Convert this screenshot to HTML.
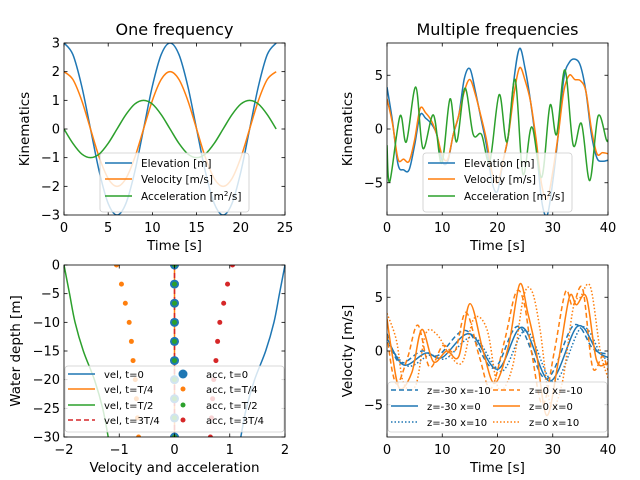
<!DOCTYPE html>
<html><head><meta charset="utf-8"><style>
html,body{margin:0;padding:0;background:#fff;}
svg{display:block;font-family:"DejaVu Sans","Liberation Sans",sans-serif;}
</style></head><body>
<svg id="fig" width="640" height="480" viewBox="0 0 640 480" xmlns="http://www.w3.org/2000/svg"></svg>
<script>
// ---- Panel 1: one frequency
const p1Times = [0,1,2,3,4,5,6,7,8,9,10,11,12,13,14,15,16,17,18,19,20,21,22,23,24];
const p1Elevation = [3,2.6,1.5,0,-1.5,-2.6,-3,-2.6,-1.5,0,1.5,2.6,3,2.6,1.5,0,-1.5,-2.6,-3,-2.6,-1.5,0,1.5,2.6,3];
const p1Velocity = [2,1.73,1,0,-1,-1.73,-2,-1.73,-1,0,1,1.73,2,1.73,1,0,-1,-1.73,-2,-1.73,-1,0,1,1.73,2];
const p1Accel = [0,-0.5,-0.87,-1,-0.87,-0.5,0,0.5,0.87,1,0.87,0.5,0,-0.5,-0.87,-1,-0.87,-0.5,0,0.5,0.87,1,0.87,0.5,0];
const p1XTicks = [0,5,10,15,20,25];
const p1YTicks = [-3,-2,-1,0,1,2,3];
// ---- Panel 2: multiple frequencies
const p2Times = [0,1,2,3,4,5,6,7,8,9,10,11,12,13,14,15,16,17,18,19,20,21,22,23,24,25,26,27,28,29,30,31,32,33,34,35,36,37,38,39,40];
const p2Elevation = [3.9,0.7,-3.3,-3.8,-3.8,-1.5,1.3,1,0.5,-0.5,-3,-3,-0.5,1.3,4.7,5.6,3.5,1,-1.5,-4.9,-5.8,-3,-0.5,4.7,7.5,5.6,2.5,-1.5,-6.7,-8,-4.9,-0.5,4.7,6.2,6.5,5.9,3.5,-0.5,-2.7,-3,-2.9];
const p2Velocity = [2.8,0.5,-2.8,-2.8,-3,-1,1.9,1.5,0.8,-0.5,-2.5,-2.8,-0.5,1.3,3.5,4.6,3.2,1.2,-1,-4,-5,-3,-0.5,3.3,5.7,4.5,2.5,-1,-5.2,-6.5,-4,-0.5,3.5,5,4.6,4.5,3.5,0,-2.3,-2.2,-2.3];
const p2AccTimes = [0,0.5,2.35,3.5,5.2,6.5,8.4,9.9,11.4,12.6,14.1,15.6,17.1,18.6,20.3,21.7,23.2,24.6,26.2,28,29.5,30.7,32.2,33.7,35.2,36.7,38.2,39.7,40];
const p2Accel = [-1.5,-4.9,1.2,-1.2,3.9,-1.8,1.3,-3.2,2.8,-1.2,3.8,-0.5,-0.5,-3,3.2,-1.2,4.6,-4.2,0.2,-4.5,2.2,-0.5,5.5,-1.5,0.5,-4.8,1.2,-1,-1];
const p2XTicks = [0,10,20,30,40];
const p2YTicks = [-5,0,5];
// ---- Panel 3: depth profiles
const p3Depths = [0,-5,-10,-15,-20,-25,-30];
const p3VelT0 = [2.0,1.9,1.8,1.65,1.45,1.3,1.2];
const p3VelTQ = [0,0,0,0,0,0,0];
const p3VelTH = [-2.0,-1.9,-1.8,-1.65,-1.45,-1.3,-1.2];
const p3VelT3Q = [0,0,0,0,0,0,0];
const p3AccDepths = [0,-3.33,-6.67,-10,-13.33,-16.67,-20,-23.33,-26.67,-30];
const p3AccT0 = [0,0,0,0,0,0,0,0,0,0];
const p3AccTQ = [-1.05,-0.96,-0.89,-0.82,-0.78,-0.75,-0.71,-0.69,-0.67,-0.65];
const p3AccTH = [0,0,0,0,0,0,0,0,0,0];
const p3AccT3Q = [1.05,0.96,0.89,0.82,0.78,0.75,0.71,0.69,0.67,0.65];
const p3XTicks = [-2,-1,0,1,2];
const p3YTicks = [-30,-25,-20,-15,-10,-5,0];
// ---- Panel 4: velocity time series
const p4BlueTimes = [0,3,7,10,15,20,24.5,29.5,34.5,38,40];
const p4BlueX0 = [1.2,-1.3,-0.2,-0.6,1.6,-1.7,2.2,-2.8,2.3,0,-0.6];
const p4BlueTimesM = [0,2.3,6.3,9.3,14.3,19.3,23.8,28.8,33.8,37.3,40];
const p4BlueXm10 = [1.6,-1.1,0,-0.4,1.9,-1.6,2.3,-2.6,2.4,0.2,-0.3];
const p4BlueTimesP = [0,3.7,7.7,10.7,15.7,20.7,25.2,30.2,35.2,38.7,40];
const p4BlueXp10 = [0.8,-1.4,-0.4,-0.7,1.3,-1.9,1.9,-2.9,2.2,-0.3,-0.8];
const p4OrTimes = [0,1,2.3,4.5,6.3,8.4,10.8,13,15,17.4,19.5,22,24,25.5,27,28.9,31,33,34.3,36.1,37.9,39.7,40];
const p4OrX0 = [3,-0.5,-3.5,-2,2,-1,0,-0.5,4.4,0,-3,0.5,6.2,3.5,0,-6,-1,5,4.3,5,-0.8,-1.2,-1];
const p4OrTimesM = [0,1,2,3.8,5.6,7.7,10.1,12.3,14.3,16.7,18.8,21.3,23.3,24.8,26.3,28.2,30.3,32.3,33.6,35.4,37.2,39,40];
const p4OrXm10 = [1.5,-2,-3,-0.5,2.4,-1.5,0.5,0,3.6,-0.5,-3.5,1,5.4,4.5,-0.5,-5,0,5.5,4.2,5.8,-1.5,-0.5,-1.8];
const p4OrTimesP = [0,1.7,3,5.2,7,9.1,11.5,13.7,15.7,18.1,20.2,22.7,24.7,26.2,27.7,29.6,31.7,33.7,35,36.8,38.6,40];
const p4OrXp10 = [3.5,1,-3,-3.2,1.6,1.5,-0.5,-1,3,2,-3.5,-1.5,5,5.6,2,-5,-3,4,5,6,0,-2.5];
const p4XTicks = [0,10,20,30,40];
const p4YTicks = [-5,0,5];

const NS = "http://www.w3.org/2000/svg";
const fig = document.getElementById('fig');
function mk(tag, attrs, parent){
  const e = document.createElementNS(NS, tag);
  for (const k in attrs) e.setAttribute(k, attrs[k]);
  (parent||fig).appendChild(e);
  return e;
}
function scale(d0,d1,r0,r1){ return v => r0 + (v-d0)/(d1-d0)*(r1-r0); }
function smoothPath(xs, ys){
  let d = 'M'+xs[0].toFixed(2)+','+ys[0].toFixed(2);
  for (let i=0;i<xs.length-1;i++){
    const x0=xs[Math.max(0,i-1)], y0=ys[Math.max(0,i-1)];
    const x1=xs[i], y1=ys[i], x2=xs[i+1], y2=ys[i+1];
    const x3=xs[Math.min(xs.length-1,i+2)], y3=ys[Math.min(xs.length-1,i+2)];
    const c1x=x1+(x2-x0)/6, c1y=y1+(y2-y0)/6, c2x=x2-(x3-x1)/6, c2y=y2-(y3-y1)/6;
    d += ' C'+c1x.toFixed(2)+','+c1y.toFixed(2)+' '+c2x.toFixed(2)+','+c2y.toFixed(2)+' '+x2.toFixed(2)+','+y2.toFixed(2);
  }
  return d;
}
const C = {blue:'#1f77b4', orange:'#ff7f0e', green:'#2ca02c', red:'#d62728'};

function axes(L,T,R,B,xd,yd,xticks,yticks,xlabel,ylabel,title,prefix,yoff){
  const sx = scale(xd[0],xd[1],L,R), sy = scale(yd[0],yd[1],B,T);
  const g = mk('g',{});
  
  
  const clipId = prefix+'-clip';
  const cp = mk('clipPath',{id:clipId},g);
  mk('rect',{x:L,y:T,width:R-L,height:B-T},cp);
  const plot = mk('g',{'clip-path':'url(#'+clipId+')'},g);
  
  
  xticks.forEach(v=>{
    const x=sx(v);
    const t1 = mk('line',{x1:x,x2:x,y1:B,y2:B-3.5,stroke:'#000','stroke-width':0.8},g);
    
    
    mk('line',{x1:x,x2:x,y1:T,y2:T+3.5,stroke:'#000','stroke-width':0.8},g);
    const tl = mk('text',{x:x,y:B+17,'font-size':13,'text-anchor':'middle',fill:'#000'},g);
    tl.textContent = (v<0?'\u2212'+(-v):String(v));
    
    
  });
  yticks.forEach(v=>{
    const y=sy(v);
    const t1 = mk('line',{x1:L,x2:L+3.5,y1:y,y2:y,stroke:'#000','stroke-width':0.8},g);
    
    
    mk('line',{x1:R,x2:R-3.5,y1:y,y2:y,stroke:'#000','stroke-width':0.8},g);
    const tl = mk('text',{x:L-4,y:y+4.5,'font-size':13,'text-anchor':'end',fill:'#000'},g);
    tl.textContent = (v<0?'\u2212'+(-v):String(v));
    
    
  });
  const xl = mk('text',{x:(L+R)/2,y:B+35,'font-size':13.5,'text-anchor':'middle'},g);
  xl.textContent = xlabel;
  
  
  const yx = L - yoff;
  const yl = mk('text',{x:yx,y:(T+B)/2,'font-size':13.5,'text-anchor':'middle',transform:'rotate(-90 '+yx+' '+((T+B)/2)+')'},g);
  yl.textContent = ylabel;
  
  
  if (title){
    const tt = mk('text',{x:(L+R)/2,y:T-8,'font-size':16,'text-anchor':'middle'},g);
    tt.textContent = title;
    
    
  }
  return {sx,sy,plot,g,L,T,R,B};
}
function frame(a){
  const r = mk('rect',{x:a.L,y:a.T,width:a.R-a.L,height:a.B-a.T,fill:'none',stroke:'#000','stroke-width':0.8},a.g);
  
  
}
function line(a, xs, ys, color, name, dash){
  const p = mk('path',{d:smoothPath(xs.map(a.sx), ys.map(a.sy)),fill:'none',stroke:color,'stroke-width':1.5,'stroke-dasharray':dash||'none'},a.plot);
  
  
}
function dots(a, xs, ys, color, r, name){
  xs.forEach((x,i)=>{
    const c = mk('circle',{cx:a.sx(x),cy:a.sy(ys[i]),r:r,fill:color},a.plot);
    
    
  });
}
function legend(x,y,w,h,entries,fs,name){
  const g = mk('g',{});
  
  
  mk('rect',{x:x,y:y,width:w,height:h,rx:3,fill:'#fff','fill-opacity':0.8,stroke:'#ccc','stroke-width':0.8},g);
  entries.forEach(e=>{
    const eg = mk('g',{},g);
    
    
    if (e.marker){
      mk('circle',{cx:e.x+13,cy:e.y,r:e.marker,fill:e.color},eg);
    } else {
      mk('line',{x1:e.x,x2:e.x+27,y1:e.y,y2:e.y,stroke:e.color,'stroke-width':1.5,'stroke-dasharray':e.dash||'none'},eg);
    }
    const t = mk('text',{x:e.x+36,y:e.y+4,'font-size':fs},eg);
    t.innerHTML = e.label;
  });
}

// Panel 1
const a1 = axes(64,43,285,215,[0,25],[-3,3],p1XTicks,p1YTicks,'Time [s]','Kinematics','One frequency','p1',35);
line(a1,p1Times,p1Elevation,C.blue,'elevation-line');
line(a1,p1Times,p1Velocity,C.orange,'velocity-line');
line(a1,p1Times,p1Accel,C.green,'acceleration-line');
frame(a1);
legend(100,153,149,59,[
 {x:105,y:163,color:C.blue,label:'Elevation [m]'},
 {x:105,y:179,color:C.orange,label:'Velocity [m/s]'},
 {x:105,y:196,color:C.green,label:'Acceleration [m<tspan baseline-shift="super" font-size="7">2</tspan>/s]'}
],10.5,'p1-legend');

// Panel 2
const a2 = axes(387,43,608,215,[0,40],[-8,8],p2XTicks,p2YTicks,'Time [s]','Kinematics','Multiple frequencies','p2',35);
line(a2,p2Times,p2Elevation,C.blue,'elevation-line');
line(a2,p2Times,p2Velocity,C.orange,'velocity-line');
line(a2,p2AccTimes,p2Accel,C.green,'acceleration-line');
frame(a2);
legend(423,153,149,59,[
 {x:428,y:163,color:C.blue,label:'Elevation [m]'},
 {x:428,y:179,color:C.orange,label:'Velocity [m/s]'},
 {x:428,y:196,color:C.green,label:'Acceleration [m<tspan baseline-shift="super" font-size="7">2</tspan>/s]'}
],10.5,'p2-legend');

// Panel 3
const a3 = axes(64,265,285,437,[-2,2],[-30,0],p3XTicks,p3YTicks,'Velocity and acceleration','Water depth [m]',null,'depth',44);
line(a3,p3VelT0,p3Depths,C.blue,'vel-t0-line');
line(a3,p3VelTQ,p3Depths,C.orange,'vel-tT4-line');
line(a3,p3VelTH,p3Depths,C.green,'vel-tT2-line');
line(a3,p3VelT3Q,p3Depths,C.red,'vel-t3T4-line','5,3');
dots(a3,p3AccT0,p3AccDepths,C.blue,4.5,'acc-t0-point');
dots(a3,p3AccTQ,p3AccDepths,C.orange,2.5,'acc-tT4-point');
dots(a3,p3AccTH,p3AccDepths,C.green,2.5,'acc-tT2-point');
dots(a3,p3AccT3Q,p3AccDepths,C.red,2.5,'acc-t3T4-point');
frame(a3);
legend(65,366,219,66,[
 {x:68,y:374,color:C.blue,label:'vel, t=0'},
 {x:68,y:389,color:C.orange,label:'vel, t=T/4'},
 {x:68,y:405,color:C.green,label:'vel, t=T/2'},
 {x:68,y:420,color:C.red,dash:'5,3',label:'vel, t=3T/4'},
 {x:170,y:374,color:C.blue,marker:4.5,label:'acc, t=0'},
 {x:170,y:389,color:C.orange,marker:2.5,label:'acc, t=T/4'},
 {x:170,y:405,color:C.green,marker:2.5,label:'acc, t=T/2'},
 {x:170,y:420,color:C.red,marker:2.5,label:'acc, t=3T/4'}
],10,'p3-legend');

// Panel 4
const a4 = axes(387,265,608,437,[0,40],[-8,8],p4XTicks,p4YTicks,'Time [s]','Velocity [m/s]',null,'p4',35);
line(a4,p4BlueTimesM,p4BlueXm10,C.blue,'z-30-x-10-line','5,3');
line(a4,p4BlueTimes,p4BlueX0,C.blue,'z-30-x0-line');
line(a4,p4BlueTimesP,p4BlueXp10,C.blue,'z-30-x10-line','1.5,2');
line(a4,p4OrTimesM,p4OrXm10,C.orange,'z0-x-10-line','5,3');
line(a4,p4OrTimes,p4OrX0,C.orange,'z0-x0-line');
line(a4,p4OrTimesP,p4OrXp10,C.orange,'z0-x10-line','1.5,2');
frame(a4);
legend(388,382,219,50,[
 {x:391,y:390,color:C.blue,dash:'5,3',label:'z=-30 x=-10'},
 {x:391,y:406,color:C.blue,label:'z=-30 x=0'},
 {x:391,y:422,color:C.blue,dash:'1.5,2',label:'z=-30 x=10'},
 {x:493,y:390,color:C.orange,dash:'5,3',label:'z=0 x=-10'},
 {x:493,y:406,color:C.orange,label:'z=0 x=0'},
 {x:493,y:422,color:C.orange,dash:'1.5,2',label:'z=0 x=10'}
],10,'p4-legend');
</script>
</body></html>
